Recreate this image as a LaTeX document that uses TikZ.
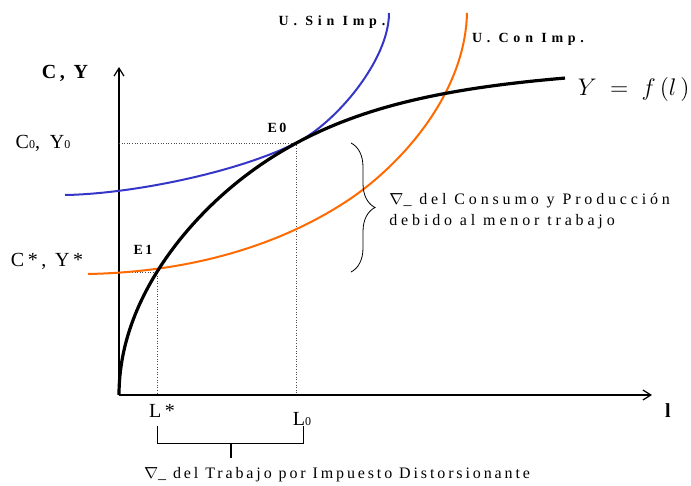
\documentclass[tikz,border=0pt]{standalone}
\usepackage{fontspec}
\setmainfont{Liberation Serif}
\newfontfamily\widefont[LetterSpace=18]{Liberation Serif}
\newfontfamily\widerfont[LetterSpace=24]{Liberation Serif}
\newfontfamily\tagfont[LetterSpace=34]{Liberation Serif}
\usetikzlibrary{arrows.meta,decorations.pathreplacing}
\definecolor{usin}{HTML}{3535C8}
\definecolor{ucon}{HTML}{FF6A00}
\tikzset{
  axis/.style={draw=black,line width=0.6pt,-{Straight Barb[length=4pt,width=5pt]}},
  guide/.style={densely dotted,line width=0.3pt,black!70},
  prod/.style={line width=1.6pt,black},
  util/.style={line width=1pt},
  lbl/.style={inner sep=0pt,font=\widefont\fontsize{10}{12}\selectfont},
  tag/.style={inner sep=0pt,font=\widefont\bfseries\fontsize{7}{8}\selectfont},
  utag/.style={inner sep=0pt,font=\tagfont\bfseries\fontsize{7}{8}\selectfont},
  note/.style={inner sep=0pt,font=\widerfont\fontsize{8}{10.5}\selectfont,align=left},
}
\newcommand{\lo}[1]{{\fontsize{6}{7}\selectfont #1}}
\begin{document}
\begin{tikzpicture}[x=0.5pt,y=-0.5pt]
  \useasboundingbox (0,0) rectangle (691,486);
  % axes
  \coordinate (o) at (119,395);
  \coordinate (ytop) at (119,67);
  \coordinate (xend) at (652,395);
  \draw[axis] (o) -- (ytop);
  \draw[axis] (o) -- (xend);
  \node[lbl,font=\widefont\bfseries\fontsize{10}{12}\selectfont] (cy) at (65,73) {C, Y};
  \node[lbl,font=\bfseries\fontsize{10}{12}\selectfont] (l) at (668,411) {l};
  % equilibria and guides
  \coordinate (e0) at (296,143);
  \coordinate (e1) at (157,272);
  \draw[guide] (o |- e0) -- (e0) -- (e0 |- o);
  \draw[guide] (o |- e1) -- (e1) -- (e1 |- o);
  \node[tag] (te0) at (277,128) {E0};
  \node[tag] (te1) at (143,250) {E1};
  \node[lbl,font=\widerfont\fontsize{10}{12}\selectfont] (c0) at (43,143) {C\lo{0}, Y\lo{0}};
  \node[lbl] (cs) at (47,261) {C*, Y*};
  \node[lbl] (ls) at (162,411) {L*};
  \node[lbl] (l0) at (302,419) {L\lo{0}};
  % curves
  \coordinate (us0) at (65,195);
  \coordinate (us1) at (389,13);
  \draw[util,usin] (us0) .. controls (130,194) and (236,173) .. (e0)
    .. controls (336,123) and (389,60) .. (us1);
  \coordinate (uc0) at (88,274);
  \coordinate (ucm) at (350,199);
  \coordinate (uc1) at (467,13);
  \draw[util,ucon] (uc0) .. controls (190,272) and (280,246) .. (ucm)
    .. controls (400,165) and (465,95) .. (uc1);
  \draw[prod] plot[domain=0:21.12,samples=90,variable=\s]
    ({119+\s*\s},{395-20*\s/(1+(\s/16.73)^5)^(0.2)});
  \node[inner sep=0pt,anchor=east,font=\fontsize{13}{15}\selectfont] (yf) at (690,90) {$Y\;=\;f\,\bigl(l\,\bigr)$};
  \node[utag] (usn) at (332,22) {U. Sin Imp.};
  \node[utag] (ucn) at (528,39) {U. Con Imp.};
  % brace on the right
  \coordinate (bt) at (351,143);
  \coordinate (bb) at (351,272);
  \draw[line width=0.4pt,decorate,decoration={brace,amplitude=12pt,aspect=0.5}] (bt) -- (bb);
  \node[note,anchor=west] (dc) at (389,211) {$\nabla$\_ del Consumo y Producción\\debido al menor trabajo};
  % bracket below
  \coordinate (bl) at (157,426);
  \coordinate (br) at (303,426);
  \coordinate (bm) at (231,443);
  \draw[line width=0.5pt] (bl) -- (bl |- bm) -- (br |- bm) -- (br);
  \draw[line width=1pt] (bm) -- ++(0,15) coordinate (bs);
  \node[note,font=\widefont\fontsize{8}{10}\selectfont,anchor=north] (dt) at (337,467) {$\nabla$\_ del Trabajo por Impuesto Distorsionante};
\end{tikzpicture}
\end{document}
